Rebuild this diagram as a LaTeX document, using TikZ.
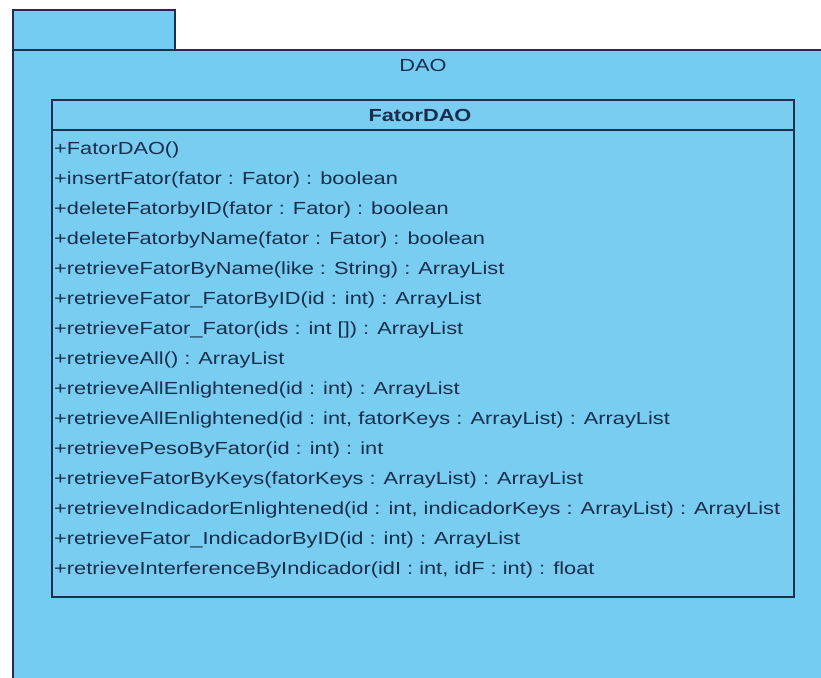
\documentclass[tikz,border=0pt]{standalone}
\usepackage{fontspec}
\setmainfont{Liberation Sans}[FakeStretch=1.245]
\definecolor{pkgfill}{RGB}{116,204,242}
\definecolor{clsfill}{RGB}{120,205,241}
\definecolor{edge}{RGB}{28,48,78}
\definecolor{ink}{RGB}{24,46,76}
\tikzset{
  outline/.style={draw=edge, line width=1.3pt},
  member/.style={anchor=west, inner sep=0pt, text=ink, font=\fontsize{17.5}{20}\selectfont},
  title/.style={inner sep=0pt, text=ink, font=\fontsize{17.5}{20}\selectfont}
}
\begin{document}
\begin{tikzpicture}[x=1pt, y=-1pt]
  \useasboundingbox (0,0) rectangle (821,677);
  \fill[white] (0,0) rectangle (821,677);
  \begin{scope}
    \clip (0,0) rectangle (821,677);
    % package tab and body
    \fill[pkgfill] (13,10) rectangle (175,50);
    \fill[pkgfill] (13,50) rectangle (830,690);
    \draw[outline] (13,50) -- (13,10) -- (175,10) -- (175,50);
    \draw[outline] (13,690) -- (13,50) -- (830,50);
  \end{scope}
  \coordinate (tab) at (94,30);
  \node[title] (pkgname) at (423,65) {DAO};
  % class box
  \node[outline, fill=clsfill, minimum width=742pt, minimum height=497pt, inner sep=0pt] (cls) at (423,348.5) {};
  \node[title, font=\fontsize{17.5}{20}\selectfont\bfseries] (clsname) at (420,115) {FatorDAO};
  \coordinate (sepL) at (52,130);
  \coordinate (sepR) at (794,130);
  \draw[outline] (sepL) -- (sepR);
  \foreach \t [count=\i from 0] in {
    +FatorDAO(),
    +insertFator(fator : Fator) : boolean,
    +deleteFatorbyID(fator : Fator) : boolean,
    +deleteFatorbyName(fator : Fator) : boolean,
    +retrieveFatorByName(like : String) : ArrayList,
    +retrieveFator\_FatorByID(id : int) : ArrayList,
    +retrieveFator\_Fator(ids : int []) : ArrayList,
    +retrieveAll() : ArrayList,
    +retrieveAllEnlightened(id : int) : ArrayList,
    {+retrieveAllEnlightened(id : int, fatorKeys : ArrayList) : ArrayList},
    +retrievePesoByFator(id : int) : int,
    +retrieveFatorByKeys(fatorKeys : ArrayList) : ArrayList,
    {+retrieveIndicadorEnlightened(id : int, indicadorKeys : ArrayList) : ArrayList},
    +retrieveFator\_IndicadorByID(id : int) : ArrayList,
    {+retrieveInterferenceByIndicador(idI : int, idF : int) : float}
  }{
    \node[member] (m\i) at (54,{150+30*\i}) {\t};
  }
\end{tikzpicture}
\end{document}
